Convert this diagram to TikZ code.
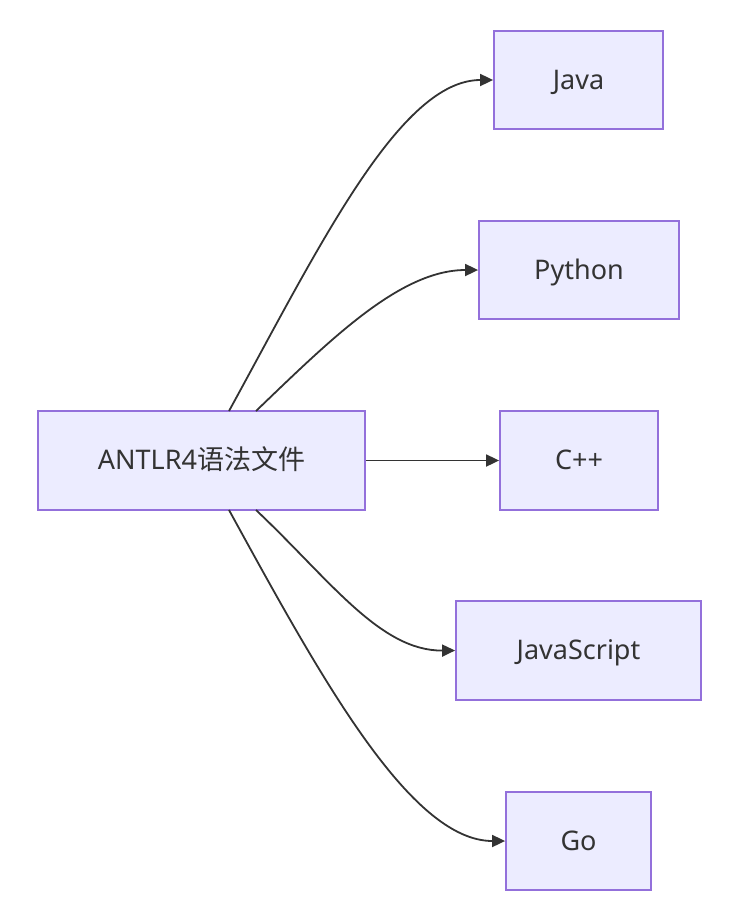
\documentclass[tikz,border=0pt]{standalone}
\usepackage{fontspec}
\setmainfont{Noto Sans}
\newfontfamily\cjk{Noto Sans CJK SC}
\usetikzlibrary{arrows.meta}
\definecolor{nodefill}{HTML}{ECECFF}
\definecolor{nodeline}{HTML}{9370DB}
\definecolor{edgecol}{HTML}{333333}
\tikzset{
  box/.style={draw=nodeline, fill=nodefill, line width=1.8pt, inner sep=0pt, font=\fontsize{27}{32}\selectfont, text=edgecol, text height=22pt, text depth=4pt},
  link/.style={draw=edgecol, line width=1.8pt, -{Triangle[length=13pt,width=12pt]}}
}
\begin{document}
\begin{tikzpicture}[x=1pt,y=-1pt]
\useasboundingbox (0,0) rectangle (732,916);
\node[box, minimum width=327pt, minimum height=99pt] (src) at (201.5,460.5) {ANTLR4{\cjk 语法文件}};
\node[box, minimum width=169pt, minimum height=98pt] (java) at (578.5,80) {Java};
\node[box, minimum width=200pt, minimum height=98pt] (py) at (579,270) {Python};
\node[box, minimum width=158pt, minimum height=99pt] (cpp) at (579,460.5) {C++};
\node[box, minimum width=245pt, minimum height=99pt] (js) at (578.5,650.5) {JavaScript};
\node[box, minimum width=145pt, minimum height=98pt] (go) at (578.5,841) {Go};
\coordinate (s1) at (229,411);
\coordinate (s2) at (256,411);
\coordinate (s4) at (256,510);
\coordinate (s5) at (229,510);
\draw[link] (s1) .. controls (320,245) and (400,80) .. (java.west);
\draw[link] (s2) .. controls (330,340) and (400,270) .. (py.west);
\draw[link] (src.east) -- (cpp.west);
\draw[link] (s4) .. controls (330,580) and (380,651) .. (js.west);
\draw[link] (s5) .. controls (320,676) and (410,841) .. (go.west);
\end{tikzpicture}
\end{document}
